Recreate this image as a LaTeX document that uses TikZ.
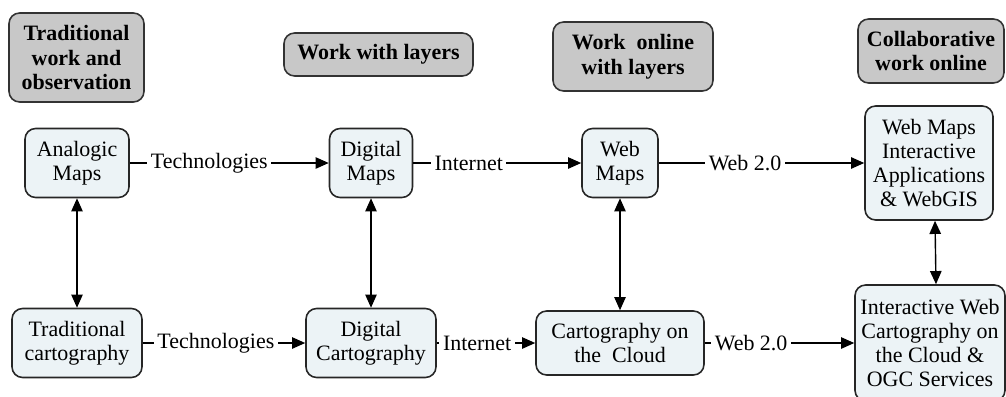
\documentclass[tikz,border=0pt]{standalone}
\usepackage{fontspec}
\setmainfont{Liberation Serif}
\usetikzlibrary{arrows.meta}
\definecolor{headgray}{RGB}{200,200,200}
\definecolor{boxblue}{RGB}{236,243,246}
\tikzset{
  headbox/.style={draw=black!80, fill=headgray, rounded corners=6pt, line width=0.9pt,
    align=center, font=\fontsize{12.5}{14.2}\selectfont\bfseries, inner sep=0pt},
  mapbox/.style={draw=black!85, fill=boxblue, rounded corners=6pt, line width=0.9pt,
    align=center, font=\fontsize{12.5}{13.6}\selectfont, inner sep=0pt},
  flow/.style={-{Triangle[length=7.5pt,width=6.5pt]}, line width=0.8pt},
  link/.style={{Triangle[length=7.5pt,width=6.5pt]}-{Triangle[length=7.5pt,width=6.5pt]}, line width=0.8pt},
  lbl/.style={fill=white, inner sep=2pt, font=\fontsize{12.5}{14}\selectfont}
}

\begin{document}
\begin{tikzpicture}[x=0.02cm, y=-0.02cm]
    \useasboundingbox (0,0) rectangle (1006,396);

    % Stage headers
    \node[headbox, minimum width=2.7cm, minimum height=1.78cm] (h1) at (76.5,57.5) {Traditional\\work and\\observation};
    \node[headbox, minimum width=3.78cm, minimum height=0.86cm] (h2) at (378.5,54.5) {Work with layers};
    \node[headbox, minimum width=3.2cm, minimum height=1.38cm] (h3) at (633,56.5) {Work\ \ online\\with layers};
    \node[headbox, minimum width=2.92cm, minimum height=1.28cm] (h4) at (931,51) {Collaborative\\work online};

    % Maps row
    \node[mapbox, minimum width=2.08cm, minimum height=1.38cm] (ana) at (77,163) {Analogic\\Maps};
    \node[mapbox, minimum width=1.66cm, minimum height=1.38cm] (dmap) at (371,163) {Digital\\Maps};
    \node[mapbox, minimum width=1.52cm, minimum height=1.38cm] (wmap) at (620,163) {Web\\Maps};
    \node[mapbox, minimum width=2.56cm, minimum height=2.28cm] (wapp) at (929,163) {Web Maps\\Interactive\\Applications\\\& WebGIS};

    % Cartography row
    \node[mapbox, minimum width=2.6cm, minimum height=1.38cm] (trad) at (77,343) {Traditional\\cartography};
    \node[mapbox, minimum width=2.6cm, minimum height=1.38cm] (dcart) at (371,343) {Digital\\Cartography};
    \node[mapbox, minimum width=3.36cm, minimum height=1.28cm] (cloud) at (620,343) {Cartography on\\the\ \ Cloud};
    \node[mapbox, minimum width=3.0cm, minimum height=2.32cm] (wcloud) at (930,343) {Interactive Web\\Cartography on\\the Cloud \&\\OGC Services};

    % Transitions
    \draw[flow] (ana) -- node[lbl, pos=0.40] {Technologies} (dmap);
    \draw[flow] (dmap) -- node[lbl, pos=0.33] {Internet} (wmap);
    \draw[flow] (wmap) -- node[lbl, pos=0.42] {Web 2.0} (wapp);
    \draw[flow] (trad) -- node[lbl, pos=0.45] {Technologies} (dcart);
    \draw[flow] (dcart) -- node[lbl, pos=0.41] {Internet} (cloud);
    \draw[flow] (cloud) -- node[lbl, pos=0.31] {Web 2.0} (wcloud);

    % Links between rows
    \draw[link] (ana) -- (trad);
    \draw[link] (dmap) -- (dcart);
    \draw[link] (wmap) -- (cloud);
    \draw[link] ([xshift=0.12cm]wapp.south) -- ([xshift=0.12cm]wcloud.north);

\end{tikzpicture}
\end{document}
